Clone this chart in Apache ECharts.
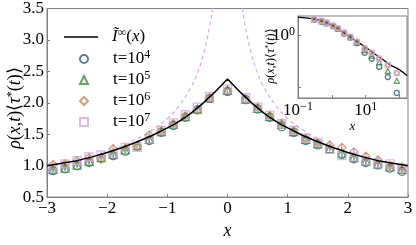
<!DOCTYPE html>
<html><head><meta charset="utf-8">
<script src="https://cdn.jsdelivr.net/npm/echarts@6/dist/echarts.min.js"></script>
<style>html,body{margin:0;padding:0;background:#fff}#c{width:416px;height:245px}</style>
</head><body><div id="c"></div>
<script>
// ---- main panel data ----
const xMain = [-2.9,-2.7,-2.5,-2.3,-2.1,-1.9,-1.7,-1.5,-1.3,-1.1,-0.9,-0.7,-0.5,-0.3,0,0.3,0.5,0.7,0.9,1.1,1.3,1.5,1.7,1.9,2.1,2.3,2.5,2.7,2.9];
const yT4 = [0.92,0.95,1.00,1.05,1.12,1.16,1.23,1.31,1.40,1.53,1.64,1.77,1.89,2.07,2.18,2.05,1.90,1.77,1.62,1.53,1.40,1.33,1.26,1.18,1.11,1.05,1.01,0.96,0.91];
const yT5 = [0.94,0.96,1.01,1.07,1.13,1.18,1.25,1.32,1.42,1.54,1.66,1.78,1.90,2.08,2.20,2.06,1.91,1.78,1.66,1.54,1.42,1.35,1.27,1.20,1.13,1.07,1.03,0.98,0.94];
const yT6 = [1.02,1.03,1.08,1.13,1.10,1.27,1.28,1.31,1.49,1.56,1.67,1.79,1.88,2.08,2.21,2.05,1.93,1.80,1.68,1.56,1.44,1.37,1.33,1.29,1.22,1.15,1.09,1.00,0.98];
const yT7 = [0.97,1.03,1.08,1.14,1.17,1.20,1.29,1.29,1.43,1.56,1.68,1.81,1.93,2.10,2.22,2.08,1.93,1.80,1.67,1.56,1.44,1.37,1.26,1.16,1.14,1.08,1.04,1.03,0.96];
const errT4 = 0.03, errT5 = 0.03, errT6 = 0.06, errT7 = 0.04;
const xLine = [-3,-2.75,-2.5,-2.25,-2,-1.75,-1.5,-1.25,-1,-0.9,-0.8,-0.7,-0.6,-0.5,-0.4,-0.3,-0.2,-0.1,0,0.1,0.2,0.3,0.4,0.5,0.6,0.7,0.8,0.9,1,1.25,1.5,1.75,2,2.25,2.5,2.75,3];
const yLine = [1.00,1.04,1.08,1.14,1.21,1.29,1.38,1.48,1.60,1.65,1.71,1.77,1.84,1.92,2.00,2.09,2.18,2.28,2.38,2.28,2.18,2.09,2.00,1.92,1.84,1.77,1.71,1.65,1.60,1.48,1.38,1.29,1.21,1.14,1.08,1.04,1.00];
const xDashL = [-1.6,-1.5,-1.25,-1,-0.8,-0.6,-0.5,-0.4,-0.3,-0.25,-0.2];
const xDashR = [1.6,1.5,1.25,1,0.8,0.6,0.5,0.4,0.3,0.25,0.2];
const yDash = [1.39,1.43,1.57,1.75,1.96,2.26,2.47,2.77,3.20,3.50,3.90];
const xTicks = [-3,-2,-1,0,1,2,3];
const yTicks = [0.5,1.0,1.5,2.0,2.5,3.0,3.5];
// ---- inset data (log-log) ----
const xIn = [0.3,0.5,0.7,1.1,1.5,2.3,3.5,5.5,9.3,15,25,45,83];
const yInT4 = [2.05,1.88,1.74,1.53,1.35,1.10,0.92,0.72,0.47,0.36,0.25,0.16,0.079];
const yInT5 = [2.07,1.90,1.76,1.55,1.37,1.12,0.94,0.74,0.53,0.41,0.31,0.21,0.135];
const yInT6 = [2.08,1.92,1.78,1.56,1.38,1.14,0.96,0.77,0.56,0.46,0.36,0.27,0.19];
const yInT7 = [2.09,1.93,1.78,1.57,1.39,1.14,0.96,0.77,0.57,0.47,0.36,0.27,0.19];
const xInLine = [0.1,0.2,0.3,0.5,0.7,1,1.5,2,3,5,10,20,30,50,100,166];
const yInLine = [2.28,2.18,2.09,1.92,1.77,1.60,1.38,1.21,1.00,0.80,0.60,0.43,0.36,0.28,0.22,0.17];

const C4='#2d5e7e', C5='#3e8c3e', C6='#c9845a', C7='#d5a3e8', CD='#d8a8ee';
const SERIF='Liberation Serif';
const zip=(a,b)=>a.map((v,i)=>[v,b[i]]);

function scat(name,xs,ys,sym,col,size,grid,z){
  return {name:name,type:'scatter',xAxisIndex:grid,yAxisIndex:grid,data:zip(xs,ys),symbol:sym,symbolSize:size,
    itemStyle:{color:'rgba(0,0,0,0)',borderColor:col,borderWidth:1.3},z:z};
}
function errs(xs,ys,e,col){
  return {type:'custom',xAxisIndex:0,yAxisIndex:0,data:zip(xs,ys),z:3,
    renderItem:function(p,api){
      const a=api.coord([api.value(0),api.value(1)-e]);
      const b=api.coord([api.value(0),api.value(1)+e]);
      return {type:'line',shape:{x1:a[0],y1:a[1],x2:b[0],y2:b[1]},style:{stroke:col,lineWidth:1}};
    }};
}
const rich={
  n:{fontFamily:SERIF,fontSize:17,lineHeight:20,color:'#000'},
  i:{fontFamily:SERIF,fontSize:17,lineHeight:20,fontStyle:'italic',color:'#000'},
  s:{fontFamily:SERIF,fontSize:12,lineHeight:12,verticalAlign:'top',color:'#000'}
};
const legendMap={line:'{i|Ĩ}{s|∞}{n|(}{i|x}{n|)}',t4:'{n|t=10}{s|4}',t5:'{n|t=10}{s|5}',t6:'{n|t=10}{s|6}',t7:'{n|t=10}{s|7}'};
const ylab='{i|ρ}{n|(}{i|x}{n|,}{i|t}{n|)⟨}{i|τ}{s|*}{n|(}{i|t}{n|)⟩}';

const chart=echarts.init(document.getElementById('c'),null,{renderer:'canvas'});
const axisGrey='#808080';
chart.setOption({
  animation:false,
  backgroundColor:'#fff',
  grid:[
    {left:47,top:8,width:361,height:199,show:true,borderColor:axisGrey,borderWidth:1,backgroundColor:'rgba(0,0,0,0)'},
    {left:298,top:16,width:109,height:82,show:true,borderColor:axisGrey,borderWidth:1,backgroundColor:'#fff',z:5}
  ],
  xAxis:[
    {type:'value',gridIndex:0,min:-3,max:3,interval:1,
     axisLine:{show:true,onZero:false,lineStyle:{color:axisGrey}},axisTick:{inside:true,length:3,lineStyle:{color:axisGrey}},splitLine:{show:false},
     axisLabel:{fontFamily:SERIF,fontSize:17,color:'#000',margin:3,formatter:v=>String(v).replace('-','−')},
     name:'x',nameLocation:'middle',nameGap:23,nameTextStyle:{fontFamily:SERIF,fontStyle:'italic',fontSize:18,color:'#000'}},
    {type:'log',gridIndex:1,min:0.1,max:166,logBase:10,z:6,
     axisLine:{show:true,onZero:false,lineStyle:{color:axisGrey}},axisTick:{inside:true,length:3,lineStyle:{color:axisGrey}},splitLine:{show:false},
     axisLabel:{margin:3,showMinLabel:true,showMaxLabel:false,rich:rich,formatter:function(v){
        if(Math.abs(v-0.1)<1e-6) return '{n|10}{s|−1}';
        if(Math.abs(v-10)<1e-6) return '{n|10}{s|1}';
        return '';}},
     name:'x',nameLocation:'middle',nameGap:20,nameTextStyle:{fontFamily:SERIF,fontStyle:'italic',fontSize:13,color:'#000'}}
  ],
  yAxis:[
    {type:'value',gridIndex:0,min:0.5,max:3.5,interval:0.5,
     axisLine:{show:true,onZero:false,lineStyle:{color:axisGrey}},axisTick:{inside:true,length:3,lineStyle:{color:axisGrey}},splitLine:{show:false},
     axisLabel:{fontFamily:SERIF,fontSize:17,color:'#000',margin:3,formatter:v=>v.toFixed(1)}},
    {type:'log',gridIndex:1,min:0.063,max:2.4,logBase:10,z:6,
     axisLine:{show:true,onZero:false,lineStyle:{color:axisGrey}},axisTick:{inside:true,length:3,lineStyle:{color:axisGrey}},splitLine:{show:false},
     axisLabel:{margin:3,rich:rich,showMinLabel:false,showMaxLabel:false,formatter:function(v){
        if(Math.abs(v-1)<1e-6) return '{n|10}{s|0}';
        return '';}}}
  ],
  legend:[
    {orient:'vertical',left:59,top:22,itemWidth:34,itemHeight:1.5,itemGap:0,
     data:[{name:'line',icon:'rect'}],
     formatter:n=>legendMap[n],
     textStyle:{rich:rich,padding:[0,0,0,9]}},
    {orient:'vertical',left:74,top:44,itemWidth:8,itemHeight:8,itemGap:2.5,
     data:['t4','t5','t6','t7'],
     formatter:n=>legendMap[n],
     textStyle:{rich:rich,padding:[0,0,0,20]}}
  ],
  graphic:[
    {type:'text',x:15,y:108,rotation:Math.PI/2,z:10,
     style:{text:ylab,align:'center',verticalAlign:'middle',rich:{
       n:{fontFamily:SERIF,fontSize:18,color:'#000'},i:{fontFamily:SERIF,fontSize:18,fontStyle:'italic',color:'#000'},s:{fontFamily:SERIF,fontSize:12,verticalAlign:'top',color:'#000'}}}},
    {type:'text',x:271,y:56,rotation:Math.PI/2,z:10,
     style:{text:ylab,align:'center',verticalAlign:'middle',
       rich:{n:{fontFamily:SERIF,fontSize:12,color:'#000'},i:{fontFamily:SERIF,fontSize:12,fontStyle:'italic',color:'#000'},s:{fontFamily:SERIF,fontSize:8,verticalAlign:'top',color:'#000'}}}}
  ],
  series:[
    {name:'dashL',type:'line',xAxisIndex:0,yAxisIndex:0,data:zip(xDashL,yDash),symbol:'none',smooth:true,lineStyle:{color:CD,width:1.2,type:[4,3]},z:2},
    {name:'dashR',type:'line',xAxisIndex:0,yAxisIndex:0,data:zip(xDashR,yDash),symbol:'none',smooth:true,lineStyle:{color:CD,width:1.2,type:[4,3]},z:2},
    errs(xMain,yT4,errT4,C4),errs(xMain,yT5,errT5,C5),errs(xMain,yT6,errT6,C6),errs(xMain,yT7,errT7,C7),
    scat('t4',xMain,yT4,'circle',C4,8,0,4),
    scat('t5',xMain,yT5,'triangle',C5,8,0,4),
    scat('t6',xMain,yT6,'diamond',C6,8,0,4),
    scat('t7',xMain,yT7,'rect',C7,8,0,4),
    {name:'line',type:'line',xAxisIndex:0,yAxisIndex:0,data:zip(xLine,yLine),symbol:'none',smooth:false,lineStyle:{color:'#000',width:1.5},itemStyle:{color:'#000'},z:5},
    scat('t4',xIn,yInT4,'circle',C4,5,1,8),
    scat('t5',xIn,yInT5,'triangle',C5,5,1,8),
    scat('t6',xIn,yInT6,'diamond',C6,5,1,8),
    scat('t7',xIn,yInT7,'rect',C7,5,1,8),
    {name:'line',type:'line',xAxisIndex:1,yAxisIndex:1,data:zip(xInLine,yInLine),symbol:'none',smooth:true,lineStyle:{color:'#000',width:1.3},itemStyle:{color:'#000'},z:7}
  ]
});
</script></body></html>
